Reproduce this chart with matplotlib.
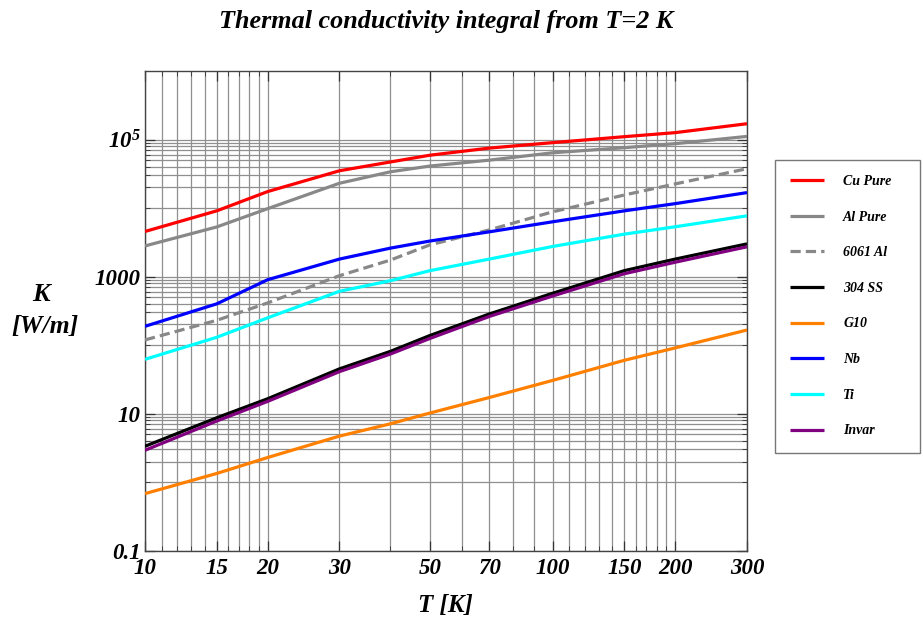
import numpy as np
import matplotlib.pyplot as plt
from matplotlib.ticker import FixedLocator, FixedFormatter, NullFormatter

# ==============================
# Data
# ==============================
T = [10, 15, 20, 30, 40, 50, 70, 100, 150, 200, 300]

cu_pure = [4550, 9100, 17400, 35000, 47000, 59000, 75000, 90000, 110000, 126000, 170000]
al_pure = [2800, 5300, 9800, 23000, 33800, 41000, 50000, 64000, 76000, 87000, 111000]
al_6061 = [119, 230, 413, 1030, 1740, 2900, 4800, 8800, 15500, 22500, 37500]
ss_304 = [3.34, 8.7, 16.5, 45, 81, 138, 285, 570, 1220, 1800, 3000]
g10 = [0.68, 1.34, 2.29, 4.7, 7.1, 10.2, 17.2, 30.5, 60, 91, 166]
nb = [188, 400, 900, 1800, 2600, 3300, 4500, 6300, 9100, 11600, 16800]
ti = [62, 130, 250, 610, 870, 1220, 1800, 2750, 4160, 5330, 7700]
invar = [2.92, 7.8, 15.1, 41, 74, 125, 262, 520, 1100, 1620, 2720]

series_names = ["Cu Pure", "Al Pure", "6061 Al", "304 SS", "G10", "Nb", "Ti", "Invar"]

x_major = [10, 15, 20, 30, 50, 70, 100, 150, 200, 300]
x_major_labels = ["10", "15", "20", "30", "50", "70", "100", "150", "200", "300"]
x_grid = list(range(10, 21)) + list(range(30, 210, 10)) + [300]

y_major = [0.1, 10, 1000, 1e5]
y_major_labels = ["0.1", "10", "1000", r"$10^{5}$"]
y_grid = [m * 10.0 ** k for k in (0, 2, 4) for m in range(1, 11)]

# ==============================
# Style
# ==============================
SERIF = "Liberation Serif"
plt.rcParams.update({
    "font.family": SERIF,
    "font.style": "italic",
    "font.weight": "bold",
    "mathtext.fontset": "custom",
    "mathtext.rm": "Liberation Serif:italic:bold",
    "mathtext.it": "Liberation Serif:italic:bold",
})

styles = {
    "Cu Pure": dict(color="#ff0000"),
    "Al Pure": dict(color="#888888"),
    "6061 Al": dict(color="#888888", dashes=(3.2, 1.6)),
    "304 SS": dict(color="#000000"),
    "G10": dict(color="#ff8000"),
    "Nb": dict(color="#0000ff"),
    "Ti": dict(color="#00ffff"),
    "Invar": dict(color="#800080"),
}
values = {
    "Cu Pure": cu_pure, "Al Pure": al_pure, "6061 Al": al_6061, "304 SS": ss_304,
    "G10": g10, "Nb": nb, "Ti": ti, "Invar": invar,
}

fig = plt.figure(figsize=(9.23, 6.26), dpi=100)
ax = fig.add_axes([0.1571, 0.1203, 0.6522, 0.7663])

ax.set_xscale("log")
ax.set_yscale("log")
ax.set_xlim(10, 300)
ax.set_ylim(0.1, 1e6)

handles = []
for name in series_names:
    h, = ax.plot(T, values[name], lw=2.3, label=name, solid_capstyle="butt",
                 zorder=3, **styles[name])
    handles.append(h)

# ticks & grid
ax.xaxis.set_major_locator(FixedLocator(x_major))
ax.xaxis.set_major_formatter(FixedFormatter(x_major_labels))
ax.xaxis.set_minor_locator(FixedLocator(x_grid))
ax.xaxis.set_minor_formatter(NullFormatter())
ax.yaxis.set_major_locator(FixedLocator(y_major))
ax.yaxis.set_major_formatter(FixedFormatter(y_major_labels))
ax.yaxis.set_minor_locator(FixedLocator(y_grid))
ax.yaxis.set_minor_formatter(NullFormatter())

ax.grid(True, which="both", color="#8f8f8f", linewidth=0.9, zorder=0)
ax.set_axisbelow(True)

ax.tick_params(which="both", direction="in", top=True, right=True,
               colors="#333333", labelcolor="black")
ax.tick_params(which="major", length=7, width=0.9, labelsize=16.5)
ax.tick_params(axis="x", which="major", pad=5)
ax.tick_params(axis="y", which="major", pad=3)
ax.tick_params(which="minor", length=3.5, width=0.6)
for spine in ax.spines.values():
    spine.set_edgecolor("#444444")
    spine.set_linewidth(1.0)

# titles / labels
fig.text(0.483, 0.966, "Thermal conductivity integral from T=2 K",
         ha="center", va="center", fontsize=18.8, style="italic")
fig.text(0.483, 0.033, "T [K]", ha="center", va="center", fontsize=18, style="italic")
fig.text(0.044, 0.530, "K", ha="center", va="center", fontsize=19, style="italic")
fig.text(0.049, 0.479, "[W/m]", ha="center", va="center", fontsize=18.5, style="italic")

leg = fig.legend(handles, series_names, loc="upper left",
                 bbox_to_anchor=(0.8397, 0.278, 0.157, 0.467), mode="expand",
                 frameon=True, fancybox=False,
                 handlelength=2.4, handletextpad=1.4, labelspacing=1.63,
                 borderpad=1.1, borderaxespad=0.0,
                 prop={"family": SERIF, "style": "italic", "weight": "bold", "size": 10})
leg.get_frame().set_edgecolor("#555555")
leg.get_frame().set_linewidth(1.0)

fig.savefig("out.png", dpi=100)
